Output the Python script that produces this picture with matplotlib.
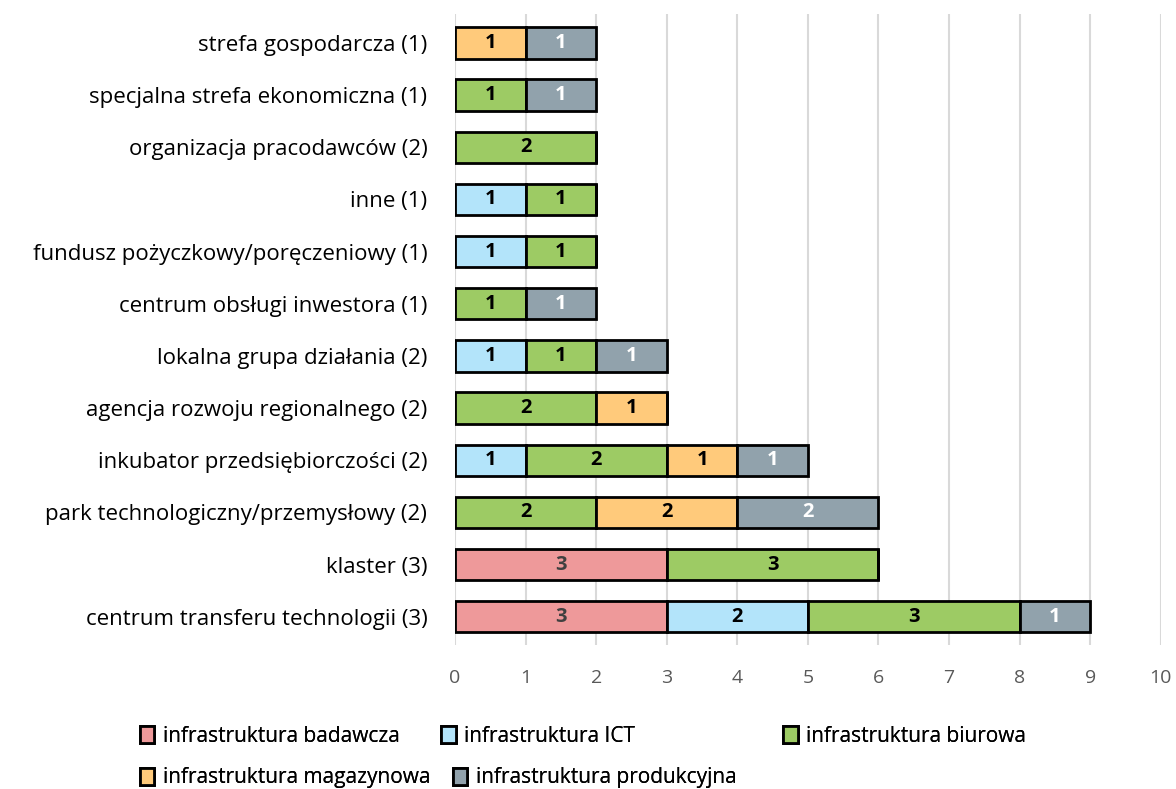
import matplotlib.pyplot as plt
import numpy as np

plt.rcParams['font.family'] = ['Open Sans', 'DejaVu Sans']

categories = [
    'centrum transferu technologii (3)',
    'klaster (3)',
    'park technologiczny/przemysłowy (2)',
    'inkubator przedsiębiorczości (2)',
    'agencja rozwoju regionalnego (2)',
    'lokalna grupa działania (2)',
    'centrum obsługi inwestora (1)',
    'fundusz pożyczkowy/poręczeniowy (1)',
    'inne (1)',
    'organizacja pracodawców (2)',
    'specjalna strefa ekonomiczna (1)',
    'strefa gospodarcza (1)',
]
series = ['infrastruktura badawcza', 'infrastruktura ICT', 'infrastruktura biurowa',
          'infrastruktura magazynowa', 'infrastruktura produkcyjna']
badawcza    = [3, 3, 0, 0, 0, 0, 0, 0, 0, 0, 0, 0]
ict         = [2, 0, 0, 1, 0, 1, 0, 1, 1, 0, 0, 0]
biurowa     = [3, 3, 2, 2, 2, 1, 1, 1, 1, 2, 1, 0]
magazynowa  = [0, 0, 2, 1, 1, 0, 0, 0, 0, 0, 0, 1]
produkcyjna = [1, 0, 2, 1, 0, 1, 1, 0, 0, 0, 1, 1]

colors = ['#EE999A', '#B3E4FA', '#9DCB64', '#FFCA7B', '#91A2AC']
text_colors = ['#404040', 'black', 'black', 'black', 'white']

fig = plt.figure(figsize=(11.76, 7.89), dpi=100)
ax = fig.add_axes([0.387, 0.182, 0.600, 0.800])

y = np.arange(len(categories))
left = np.zeros(len(categories))
handles = []
for name, vals, c, tc in zip(series, [badawcza, ict, biurowa, magazynowa, produkcyjna], colors, text_colors):
    vals = np.array(vals, dtype=float)
    bars = ax.barh(y, vals, left=left, height=0.6, color=c, edgecolor='black',
                   linewidth=2, label=name, zorder=3)
    handles.append(bars)
    for yi, v, l in zip(y, vals, left):
        if v > 0:
            ax.text(l + v / 2, yi, f'{int(v)}', ha='center', va='center',
                    fontsize=14.5, fontweight='bold', color=tc, zorder=4)
    left += vals

ax.set_xlim(0, 10)
ax.set_ylim(-0.55, len(categories) - 0.45)
ax.set_xticks(range(11))
ax.set_yticks(y)
ax.set_yticklabels(categories, fontsize=16)
ax.tick_params(axis='x', labelsize=14, labelcolor='#595959', length=0, pad=17)
ax.tick_params(axis='y', length=0, pad=20)
ax.xaxis.grid(True, color='#D9D9D9', linewidth=1.5, zorder=0)
for s in ax.spines.values():
    s.set_visible(False)

# legend entries placed one by one, like the original layout
leg_pos = [(0.103, 0.067), (0.359, 0.067), (0.650, 0.067), (0.103, 0.014), (0.369, 0.014)]
for h, name, (lx, ly) in zip(handles, series, leg_pos):
    leg = fig.legend([h], [name], loc='center left', bbox_to_anchor=(lx, ly),
                     frameon=False, fontsize=15, handlelength=0.7,
                     handleheight=0.9, handletextpad=0.4)
    fig.add_artist(leg)

fig.savefig('out.png', dpi=100)
